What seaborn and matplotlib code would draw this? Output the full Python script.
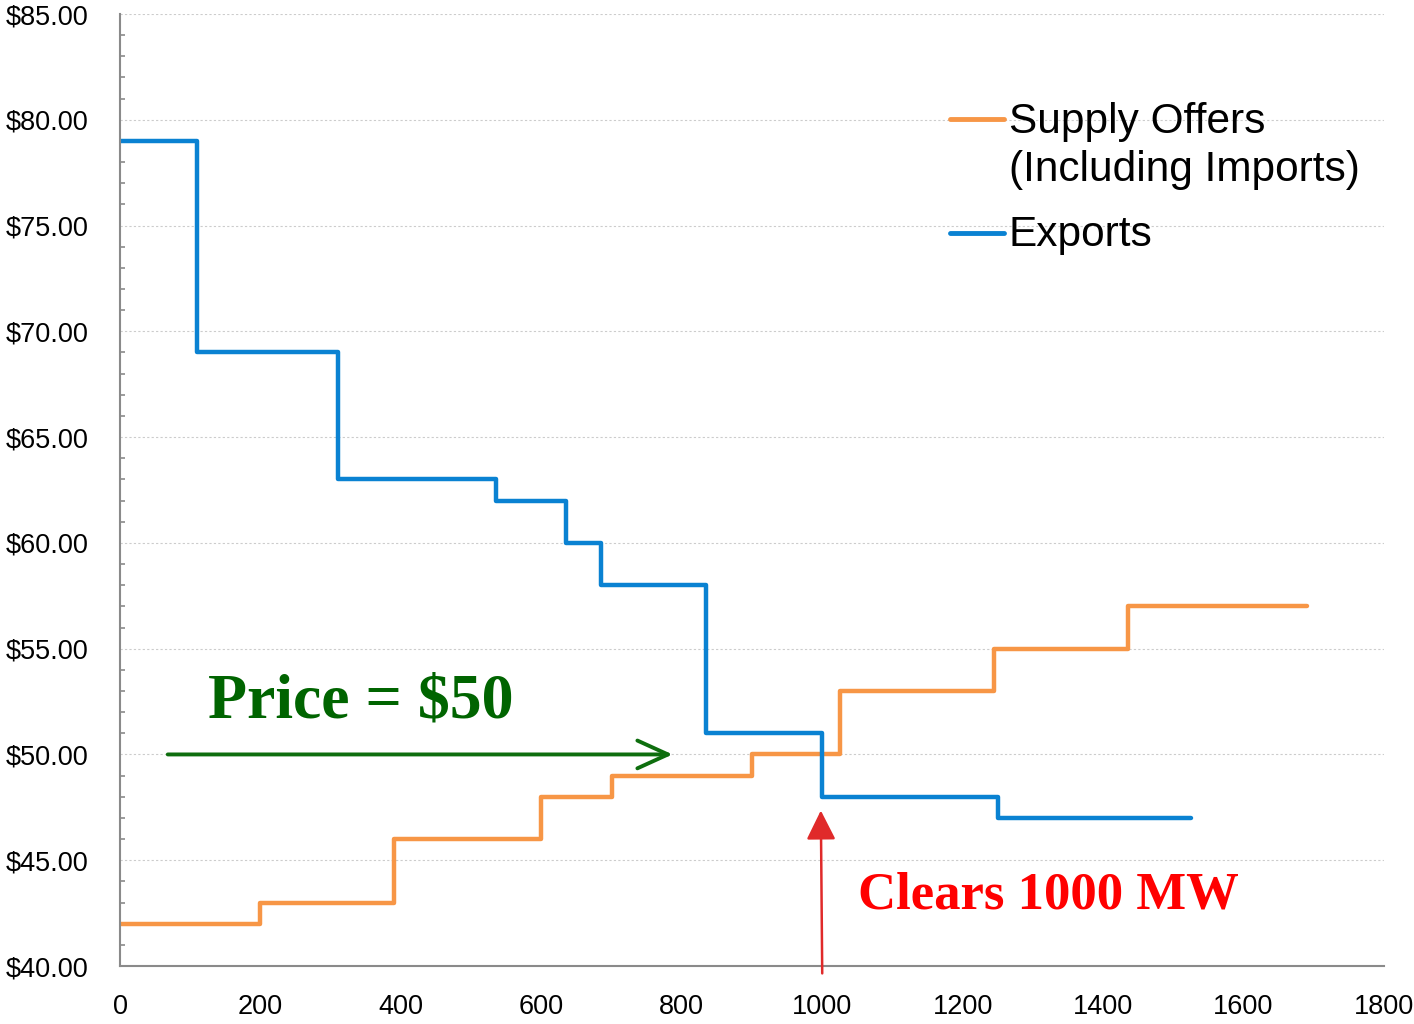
import numpy as np
import pandas as pd
import matplotlib
matplotlib.use("Agg")
import matplotlib.pyplot as plt
import seaborn as sns
from matplotlib.ticker import MultipleLocator, FuncFormatter

# ---- data ----
supply_mw = [0, 200, 390, 600, 700, 900, 1025, 1245, 1435, 1690]
supply_price = [42, 43, 46, 48, 49, 50, 53, 55, 57, 57]
export_mw = [0, 110, 310, 535, 635, 685, 835, 1000, 1250, 1525]
export_price = [79, 69, 63, 62, 60, 58, 51, 48, 47, 47]
series_names = ["Supply Offers\n(Including Imports)", "Exports"]
series_colors = ["#F79646", "#0A82D2"]
x_ticks = [0, 200, 400, 600, 800, 1000, 1200, 1400, 1600, 1800]
price_label = "Price = \\$50"
clear_label = "Clears 1000 MW"
clearing_price = 50
clearing_mw = 1000

sns.set_style("white")
plt.rcParams["font.family"] = ["Liberation Sans", "DejaVu Sans"]
plt.rcParams["text.color"] = "black"

df = pd.concat([
    pd.DataFrame({"MW": supply_mw, "Price": supply_price, "Series": series_names[0]}),
    pd.DataFrame({"MW": export_mw, "Price": export_price, "Series": series_names[1]}),
], ignore_index=True)

fig = plt.figure(figsize=(14.14, 10.24), dpi=100)
ax = fig.add_axes([120 / 1414, 58 / 1024, 1264 / 1414, 952 / 1024])

sns.lineplot(data=df, x="MW", y="Price", hue="Series", hue_order=series_names,
             palette=series_colors, estimator=None, drawstyle="steps-post",
             linewidth=3.2, legend=False, ax=ax)

ax.set_xlim(0, 1800)
ax.set_ylim(40, 85)
ax.set_xticks(x_ticks)
ax.yaxis.set_major_locator(MultipleLocator(5))
ax.yaxis.set_minor_locator(MultipleLocator(1))
ax.yaxis.set_major_formatter(FuncFormatter(lambda v, p: "\\$%.2f" % v))
ax.set_xlabel("")
ax.set_ylabel("")

ax.yaxis.grid(True, which="major", color="#cccccc", linestyle=(0, (2, 2)), linewidth=0.8)
ax.xaxis.grid(False)
ax.set_axisbelow(True)

for s in ["top", "right"]:
    ax.spines[s].set_visible(False)
for s in ["left", "bottom"]:
    ax.spines[s].set_color("#8a8a8a")
    ax.spines[s].set_linewidth(1.5)

ax.tick_params(axis="y", which="major", direction="inout", length=9.5, width=1.5,
               color="#8a8a8a", labelsize=19.5, pad=18, labelcolor="black")
ax.tick_params(axis="y", which="minor", direction="in", length=3.6, width=1.2,
               color="#8a8a8a", left=True)
ax.tick_params(axis="x", which="major", direction="out", length=6, width=1.5,
               color="#8a8a8a", labelsize=19.5, pad=14, labelcolor="black")

# legend
handles = ax.get_lines()[:2]
leg = ax.legend(handles, series_names, loc="upper left",
                bbox_to_anchor=((950 - 120) / 1264, (966 - 102) / 952),
                frameon=False, fontsize=30.5, handlelength=1.27, handletextpad=0.12,
                borderpad=0, borderaxespad=0, labelspacing=0.6, handleheight=1.12)
for t in leg.get_texts():
    t.set_linespacing(1.25)
    t.set_color("black")
for vp in leg._legend_handle_box.get_children():
    for hp in vp.get_children():
        hp.align = "top"
for ln in leg.get_lines():
    ln.set_linewidth(3.5)
    ln.set_solid_capstyle("round")

# annotations
ax.annotate("", xy=(787, clearing_price), xytext=(68, clearing_price),
            arrowprops=dict(arrowstyle="->,head_length=2.2,head_width=1.0",
                            color="#0e6e0e", lw=2.8, shrinkA=0, shrinkB=0))
ax.text(125, 51.75, price_label, color="#006400", fontsize=46, fontweight="bold",
        family=["Liberation Serif", "DejaVu Serif"], ha="left", va="baseline")

ax.annotate("", xy=(998, 47.35), xytext=(clearing_mw, 39.65),
            arrowprops=dict(arrowstyle="-|>,head_length=1.8,head_width=0.9",
                            color="#e02a2a", lw=1.8, shrinkA=0, shrinkB=0),
            annotation_clip=False)
ax.text(1051, 42.72, clear_label, color="#ff0000", fontsize=38, fontweight="bold",
        family=["Liberation Serif", "DejaVu Serif"], ha="left", va="baseline")

fig.savefig("out.png", dpi=100, facecolor="white")
